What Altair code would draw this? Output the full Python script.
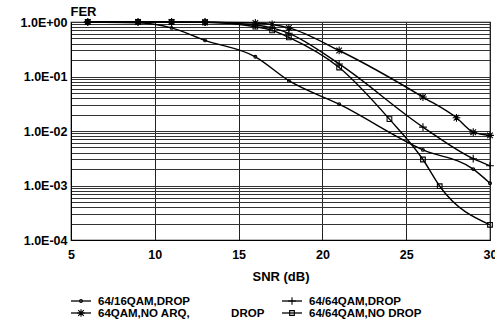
import altair as alt
import pandas as pd

SERIES = ["64/16QAM,DROP", "64/64QAM,DROP", "64QAM,NO ARQ, DROP", "64/64QAM,NO DROP"]

SNR_16_DROP = [6, 9, 11, 13, 16, 18, 21, 26, 29, 30]
FER_16_DROP = [1.0, 0.97, 0.78, 0.46, 0.23, 0.084, 0.031, 0.0045, 0.0020, 0.0011]

SNR_64_DROP = [6, 9, 11, 13, 16, 17, 18, 21, 26, 29, 30]
FER_64_DROP = [1.0, 1.0, 1.0, 0.99, 0.88, 0.78, 0.62, 0.17, 0.0118, 0.0031, 0.0023]

SNR_NOARQ = [6, 9, 11, 13, 16, 17, 18, 21, 26, 28, 29, 30]
FER_NOARQ = [1.0, 1.0, 1.0, 0.99, 0.96, 0.90, 0.78, 0.30, 0.042, 0.0175, 0.0095, 0.0083]

SNR_NODROP = [6, 9, 11, 13, 16, 17, 18, 21, 24, 26, 27, 30]
FER_NODROP = [1.0, 1.0, 1.0, 0.99, 0.82, 0.70, 0.52, 0.146, 0.0165, 0.0030, 0.00097, 0.00019]

X_TICKS = [5, 10, 15, 20, 25, 30]
Y_GRID = [m * 10.0 ** e for e in range(-4, 0) for m in range(1, 10)] + [1.0]

LEGEND_LABELS = [
    "64/16QAM,DROP",
    "64/64QAM,DROP",
    "64QAM,NO ARQ," + "\u00a0" * 13 + "DROP",
    "64/64QAM,NO DROP",
]

PLUS = "M0,-1L0,1M-1,0L1,0"
ASTER = "M-1,0L1,0M0,-1L0,1M-0.72,-0.72L0.72,0.72M-0.72,0.72L0.72,-0.72"
SHAPES = ["circle", PLUS, ASTER, "square"]
SIZES = [8, 60, 60, 22]

FONT = "Liberation Sans"

rows = []
for name, xs, ys in zip(SERIES,
                        [SNR_16_DROP, SNR_64_DROP, SNR_NOARQ, SNR_NODROP],
                        [FER_16_DROP, FER_64_DROP, FER_NOARQ, FER_NODROP]):
    for x, y in zip(xs, ys):
        rows.append({"series": name, "snr": x, "fer": y})
df = pd.DataFrame(rows)

label_expr = (
    "abs(log(datum.value)/LN10 - round(log(datum.value)/LN10)) < 0.001 ? "
    "('1.0E' + (round(log(datum.value)/LN10) >= 0 ? '+' : '-') + "
    "pad(abs(round(log(datum.value)/LN10)), 2, '0', 'left')) : ''"
)

x_enc = alt.X(
    "snr:Q",
    scale=alt.Scale(domain=[5, 30], nice=False, zero=False),
    axis=alt.Axis(
        values=X_TICKS, title="SNR (dB)", grid=True, ticks=False,
        labelPadding=8, labelFontSize=12.5, labelFontWeight="bold", labelFont=FONT,
        labelColor="black", titleFontSize=13, titleFontWeight="bold", titleFont=FONT,
        titleColor="black", titleY=40, titleBaseline="alphabetic",
        domainColor="black", gridColor="#222222", gridWidth=1,
        labelFlush=False,
    ),
)
y_enc = alt.Y(
    "fer:Q",
    scale=alt.Scale(type="log", domain=[1e-4, 1], nice=False),
    axis=alt.Axis(
        values=Y_GRID, labelExpr=label_expr, title="FER", grid=True, ticks=False,
        labelPadding=4, labelFontSize=12.5, labelFontWeight="bold", labelFont=FONT,
        labelColor="black", titleFontSize=13, titleFontWeight="bold", titleFont=FONT,
        titleColor="black", titleAngle=0, titleAlign="left", titleBaseline="alphabetic",
        titleX=-1, titleY=-7, domainColor="black", gridColor="#333333", gridWidth=1,
        labelFlush=False, labelOverlap=False,
    ),
)

lines = alt.Chart(df).mark_line(color="black", strokeWidth=1.4, interpolate="monotone").encode(
    x=x_enc, y=y_enc, detail="series:N", order="snr:Q"
)

layers = [lines]

for i, name in enumerate(SERIES):
    layers.append(
        alt.Chart(df).transform_filter(alt.datum.series == name).mark_point(
            color="black", filled=False, strokeWidth=1.1, opacity=1,
            shape=SHAPES[i], size=SIZES[i],
        ).encode(x="snr:Q", y="fer:Q")
    )

# manual legend (positions in pixels relative to plot origin)
LEG_X = [0, 211, 0, 211]
LEG_Y = [279, 279, 291, 291]
for i, name in enumerate(SERIES):
    one = pd.DataFrame({"series": [name], "label": [LEGEND_LABELS[i]]})
    x0 = LEG_X[i]
    layers.append(
        alt.Chart(one).mark_rule(color="black", strokeWidth=1.3).encode(
            x=alt.value(x0), x2=alt.value(x0 + 20), y=alt.value(LEG_Y[i])
        )
    )
    layers.append(
        alt.Chart(one).mark_point(color="black", filled=False, strokeWidth=1.1, opacity=1,
                                  shape=SHAPES[i], size=SIZES[i]).encode(
            x=alt.value(x0 + 10), y=alt.value(LEG_Y[i])
        )
    )
    layers.append(
        alt.Chart(one).mark_text(align="left", baseline="middle", font=FONT, fontSize=11.5,
                                 fontWeight="bold", color="black").encode(
            x=alt.value(x0 + 27), y=alt.value(LEG_Y[i] + 0.5), text="label:N"
        )
    )

chart = alt.layer(*layers).properties(
    width=419,
    height=218,
    padding={"left": 71, "top": 22, "right": 5, "bottom": 95},
    autosize=alt.AutoSizeParams(type="none"),
    background="white",
).configure_view(stroke="black", strokeWidth=1.2)

chart.save("out.html", embed_options={"renderer": "svg", "actions": False})
